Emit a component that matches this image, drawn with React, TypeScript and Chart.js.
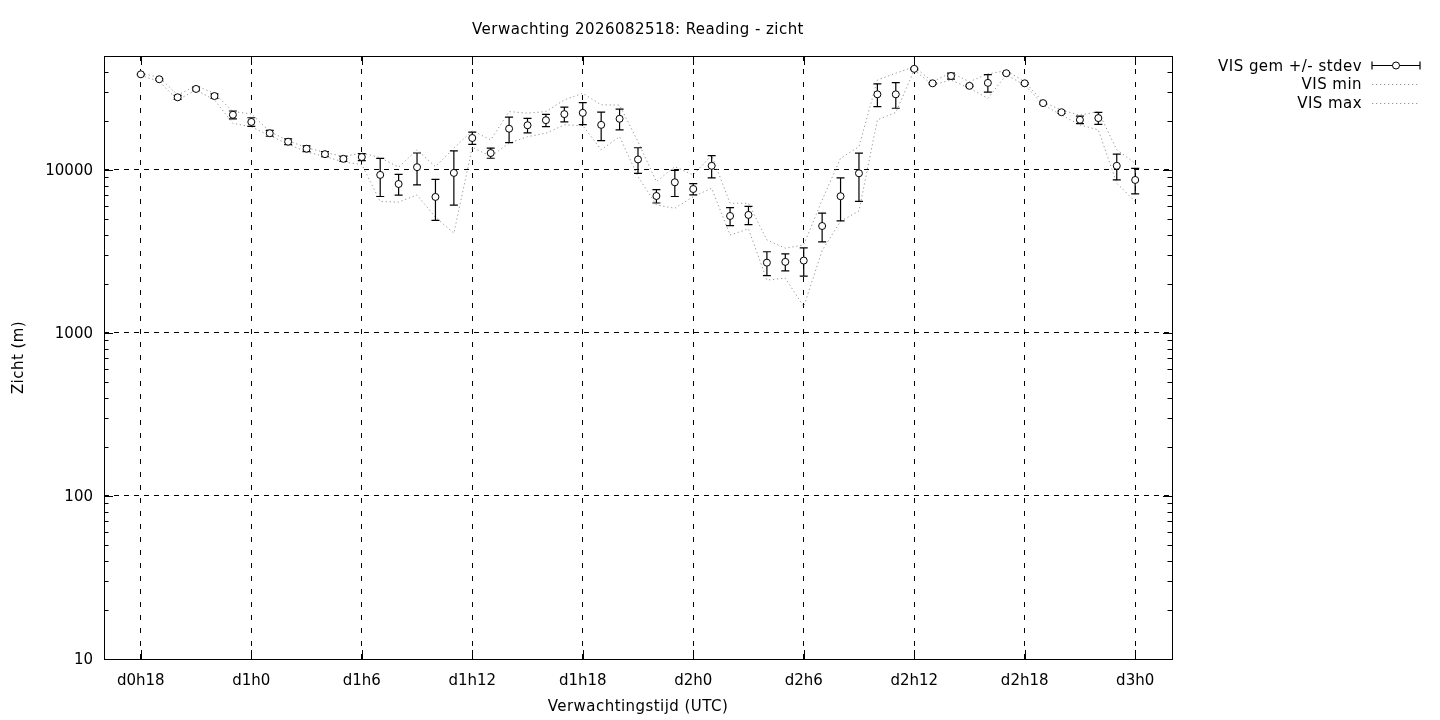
import React, { useEffect, useRef } from 'react';
import { Chart, registerables } from 'chart.js';

Chart.register(...registerables);

// ---- data ----
const hours = [18, 19, 20, 21, 22, 23, 24, 25, 26, 27, 28, 29, 30, 31, 32, 33, 34, 35, 36, 37, 38, 39, 40, 41, 42, 43, 44, 45, 46, 47, 48, 49, 50, 51, 52, 53, 54, 55, 56, 57, 58, 59, 60, 61, 62, 63, 64, 65, 66, 67, 68, 69, 70, 71, 72];

const visMean = [38600, 36000, 27900, 31400, 28400, 21800, 19700, 16800, 14900, 13500, 12500, 11700, 12000, 9320, 8200, 10400, 6830, 9590, 15700, 12700, 17900, 18800, 20200, 22000, 22400, 18900, 20600, 11600, 6920, 8400, 7640, 10600, 5220, 5300, 2700, 2730, 2780, 4530, 6900, 9540, 29100, 29100, 41700, 34000, 37700, 32800, 34200, 39200, 34000, 25700, 22600, 20300, 20800, 10600, 8680];

const visStdev = [300, 400, 800, 800, 900, 1200, 1200, 700, 600, 550, 450, 400, 600, 2450, 1200, 2300, 1930, 3500, 1350, 900, 3200, 1900, 1750, 2300, 3450, 3750, 3000, 2080, 650, 1530, 600, 1650, 660, 680, 450, 325, 550, 910, 2030, 3130, 4650, 5200, 400, 400, 1600, 400, 4200, 400, 400, 400, 400, 1070, 1770, 1900, 1550];

const visMin = [38100, 34800, 26900, 30900, 26900, 19300, 18400, 16200, 14400, 12900, 12100, 11200, 10800, 6400, 6350, 7030, 5130, 4090, 13800, 12100, 14600, 16000, 16800, 18900, 18700, 13300, 16000, 9100, 6100, 5820, 6860, 7720, 3990, 4350, 2110, 2170, 1450, 3200, 4850, 5600, 20300, 22500, 41000, 33200, 35600, 31700, 27500, 38300, 33200, 25100, 21700, 18900, 17600, 8290, 6400];

const visMax = [39200, 37000, 28800, 32800, 29500, 22800, 22100, 17200, 15100, 13700, 12800, 12100, 12700, 11900, 10400, 13300, 10470, 13600, 17400, 15300, 22800, 22300, 22800, 26900, 29500, 25100, 25000, 14900, 8480, 10470, 9320, 12300, 6250, 6250, 3720, 3310, 3470, 6540, 11800, 13900, 35600, 39200, 43000, 34800, 39500, 34800, 38800, 40700, 34800, 26100, 23300, 21700, 22800, 13300, 11000];

const xTickValues = [18, 24, 30, 36, 42, 48, 54, 60, 66, 72];
const xTickLabels = ['d0h18', 'd1h0', 'd1h6', 'd1h12', 'd1h18', 'd2h0', 'd2h6', 'd2h12', 'd2h18', 'd3h0'];
const yTickValues = [10, 100, 1000, 10000];
const yTickLabels = ['10', '100', '1000', '10000'];
const yMinorMultipliers = [2, 3, 4, 5, 6, 7, 8, 9];

const titleText = 'Verwachting 2026082518: Reading - zicht';
const xTitleText = 'Verwachtingstijd (UTC)';
const yTitleText = 'Zicht (m)';
const seriesLabels = ['VIS gem +/- stdev', 'VIS min', 'VIS max'];

const FAMILY = '"DejaVu Sans", "Liberation Sans", sans-serif';
const FONT = '15px ' + FAMILY;
const TEXT_SPACING = '0.45px';
const DOT_COLOR = '#9a9a9a';
const DOT_DASH = [1.3, 2.7];

const decorPlugin = {
  id: 'decor',
  beforeDatasetDraw(chart: any, args: any) {
    if (args.index !== 0) return;
    const ctx = chart.ctx;
    const xs = chart.scales.x;
    const ys = chart.scales.y;
    const a = chart.chartArea;
    ctx.save();
    ctx.beginPath();
    ctx.rect(a.left, a.top, a.right - a.left, a.bottom - a.top);
    ctx.clip();
    ctx.strokeStyle = '#000';
    ctx.lineWidth = 1.2;
    ctx.setLineDash([]);
    ctx.beginPath();
    hours.forEach((h, i) => {
      const px = xs.getPixelForValue(h);
      const top = ys.getPixelForValue(visMean[i] + visStdev[i]);
      const bot = ys.getPixelForValue(visMean[i] - visStdev[i]);
      ctx.moveTo(px, top);
      ctx.lineTo(px, bot);
      ctx.moveTo(px - 4, top);
      ctx.lineTo(px + 4, top);
      ctx.moveTo(px - 4, bot);
      ctx.lineTo(px + 4, bot);
    });
    ctx.stroke();
    ctx.restore();
  },
  afterDraw(chart: any) {
    const ctx = chart.ctx;
    const xs = chart.scales.x;
    const ys = chart.scales.y;
    const a = chart.chartArea;
    ctx.save();
    ctx.setLineDash([]);
    ctx.strokeStyle = '#000';
    ctx.lineWidth = 1;
    // frame
    ctx.strokeRect(Math.round(a.left) + 0.5, Math.round(a.top) + 0.5, Math.round(a.right - a.left), Math.round(a.bottom - a.top));
    // y ticks (inward, both sides)
    ctx.beginPath();
    yTickValues.forEach((d) => {
      const py = Math.round(ys.getPixelForValue(d)) + 0.5;
      ctx.moveTo(a.left, py);
      ctx.lineTo(a.left + 9, py);
      ctx.moveTo(a.right, py);
      ctx.lineTo(a.right - 9, py);
      yMinorMultipliers.forEach((m) => {
        const v = d * m;
        if (v > ys.max) return;
        const pm = Math.round(ys.getPixelForValue(v)) + 0.5;
        ctx.moveTo(a.left, pm);
        ctx.lineTo(a.left + 4.5, pm);
        ctx.moveTo(a.right, pm);
        ctx.lineTo(a.right - 4.5, pm);
      });
    });
    xTickValues.forEach((v) => {
      const px = Math.round(xs.getPixelForValue(v)) + 0.5;
      ctx.moveTo(px, a.bottom);
      ctx.lineTo(px, a.bottom - 9);
      ctx.moveTo(px, a.top);
      ctx.lineTo(px, a.top + 9);
    });
    ctx.stroke();

    // titles
    ctx.fillStyle = '#000';
    ctx.font = FONT;
    (ctx as any).letterSpacing = TEXT_SPACING;
    ctx.textAlign = 'center';
    ctx.textBaseline = 'middle';
    const cx = (a.left + a.right) / 2;
    ctx.fillText(titleText, cx, 30.5);
    ctx.fillText(xTitleText, cx, 707);
    ctx.save();
    ctx.translate(19.5, (a.top + a.bottom) / 2);
    ctx.rotate(-Math.PI / 2);
    ctx.fillText(yTitleText, 0, 0);
    ctx.restore();

    // legend
    const rows = [67, 85.5, 104];
    const textRight = 1362;
    const s0 = 1372;
    const s1 = 1420;
    ctx.textAlign = 'right';
    seriesLabels.forEach((lab, i) => {
      const y = rows[i];
      ctx.fillStyle = '#000';
      ctx.fillText(lab, textRight, y);
      const ly = y - 1.5;
      if (i === 0) {
        ctx.setLineDash([]);
        ctx.strokeStyle = '#000';
        ctx.lineWidth = 1.2;
        ctx.beginPath();
        ctx.moveTo(s0, ly);
        ctx.lineTo(s1, ly);
        ctx.moveTo(s0, ly - 4);
        ctx.lineTo(s0, ly + 4);
        ctx.moveTo(s1, ly - 4);
        ctx.lineTo(s1, ly + 4);
        ctx.stroke();
        ctx.beginPath();
        ctx.fillStyle = '#fff';
        ctx.lineWidth = 1;
        ctx.arc((s0 + s1) / 2, ly, 3.5, 0, Math.PI * 2);
        ctx.fill();
        ctx.stroke();
      } else {
        ctx.setLineDash(DOT_DASH);
        ctx.strokeStyle = DOT_COLOR;
        ctx.lineWidth = 1;
        ctx.beginPath();
        ctx.moveTo(s0, Math.round(ly) + 0.5);
        ctx.lineTo(s1, Math.round(ly) + 0.5);
        ctx.stroke();
        ctx.setLineDash([]);
      }
    });
    ctx.restore();
  },
};

export default function App() {
  const ref = useRef<HTMLCanvasElement | null>(null);

  useEffect(() => {
    document.body.style.margin = '0';
    const canvas = ref.current;
    if (!canvas) return;
    const meanData = hours.map((h, i) => ({ x: h, y: visMean[i] }));
    const minData = hours.map((h, i) => ({ x: h, y: visMin[i] }));
    const maxData = hours.map((h, i) => ({ x: h, y: visMax[i] }));

    const chart = new Chart(canvas, {
      type: 'line',
      data: {
        datasets: [
          {
            label: seriesLabels[0],
            data: meanData,
            showLine: false,
            pointRadius: 3.5,
            pointBorderWidth: 1,
            pointBackgroundColor: '#fff',
            pointBorderColor: '#000',
            borderColor: '#000',
          },
          {
            label: seriesLabels[1],
            data: minData,
            borderColor: DOT_COLOR,
            borderWidth: 1,
            borderDash: DOT_DASH,
            pointRadius: 0,
            tension: 0,
            fill: false,
          },
          {
            label: seriesLabels[2],
            data: maxData,
            borderColor: DOT_COLOR,
            borderWidth: 1,
            borderDash: DOT_DASH,
            pointRadius: 0,
            tension: 0,
            fill: false,
          },
        ],
      },
      options: {
        responsive: false,
        animation: false,
        devicePixelRatio: 1,
        layout: { padding: { left: 0, top: 56, right: 268, bottom: 0 } },
        plugins: {
          legend: { display: false },
          title: { display: false },
          tooltip: { enabled: false },
        },
        scales: {
          x: {
            type: 'linear',
            min: 16,
            max: 74,
            afterFit: (s: any) => {
              s.height = 61;
            },
            afterBuildTicks: (s: any) => {
              s.ticks = xTickValues.map((v) => ({ value: v }));
            },
            ticks: {
              autoSkip: false,
              maxRotation: 0,
              padding: 13,
              color: '#000',
              font: { family: FAMILY, size: 15 },
              callback: (_v: any, idx: number) => xTickLabels[idx],
            },
            grid: { color: '#000', lineWidth: 1, drawTicks: false },
            border: { display: false, dash: [5, 8] },
          },
          y: {
            type: 'logarithmic',
            min: 10,
            max: 50000,
            afterFit: (s: any) => {
              s.width = 104;
            },
            afterBuildTicks: (s: any) => {
              s.ticks = yTickValues.map((v) => ({ value: v }));
            },
            ticks: {
              autoSkip: false,
              padding: 11,
              labelOffset: 1.5,
              color: '#000',
              font: { family: FAMILY, size: 15 },
              callback: (_v: any, idx: number) => yTickLabels[idx],
            },
            grid: { color: '#000', lineWidth: 1, drawTicks: false },
            border: { display: false, dash: [5, 5] },
          },
        },
      },
      plugins: [decorPlugin],
    });
    return () => chart.destroy();
  }, []);

  return (
    <div style={{ position: 'fixed', left: 0, top: 0, width: 1440, height: 720, background: '#fff' }}>
      <canvas ref={ref} width={1440} height={720} style={{ width: 1440, height: 720, display: 'block' }} />
    </div>
  );
}
